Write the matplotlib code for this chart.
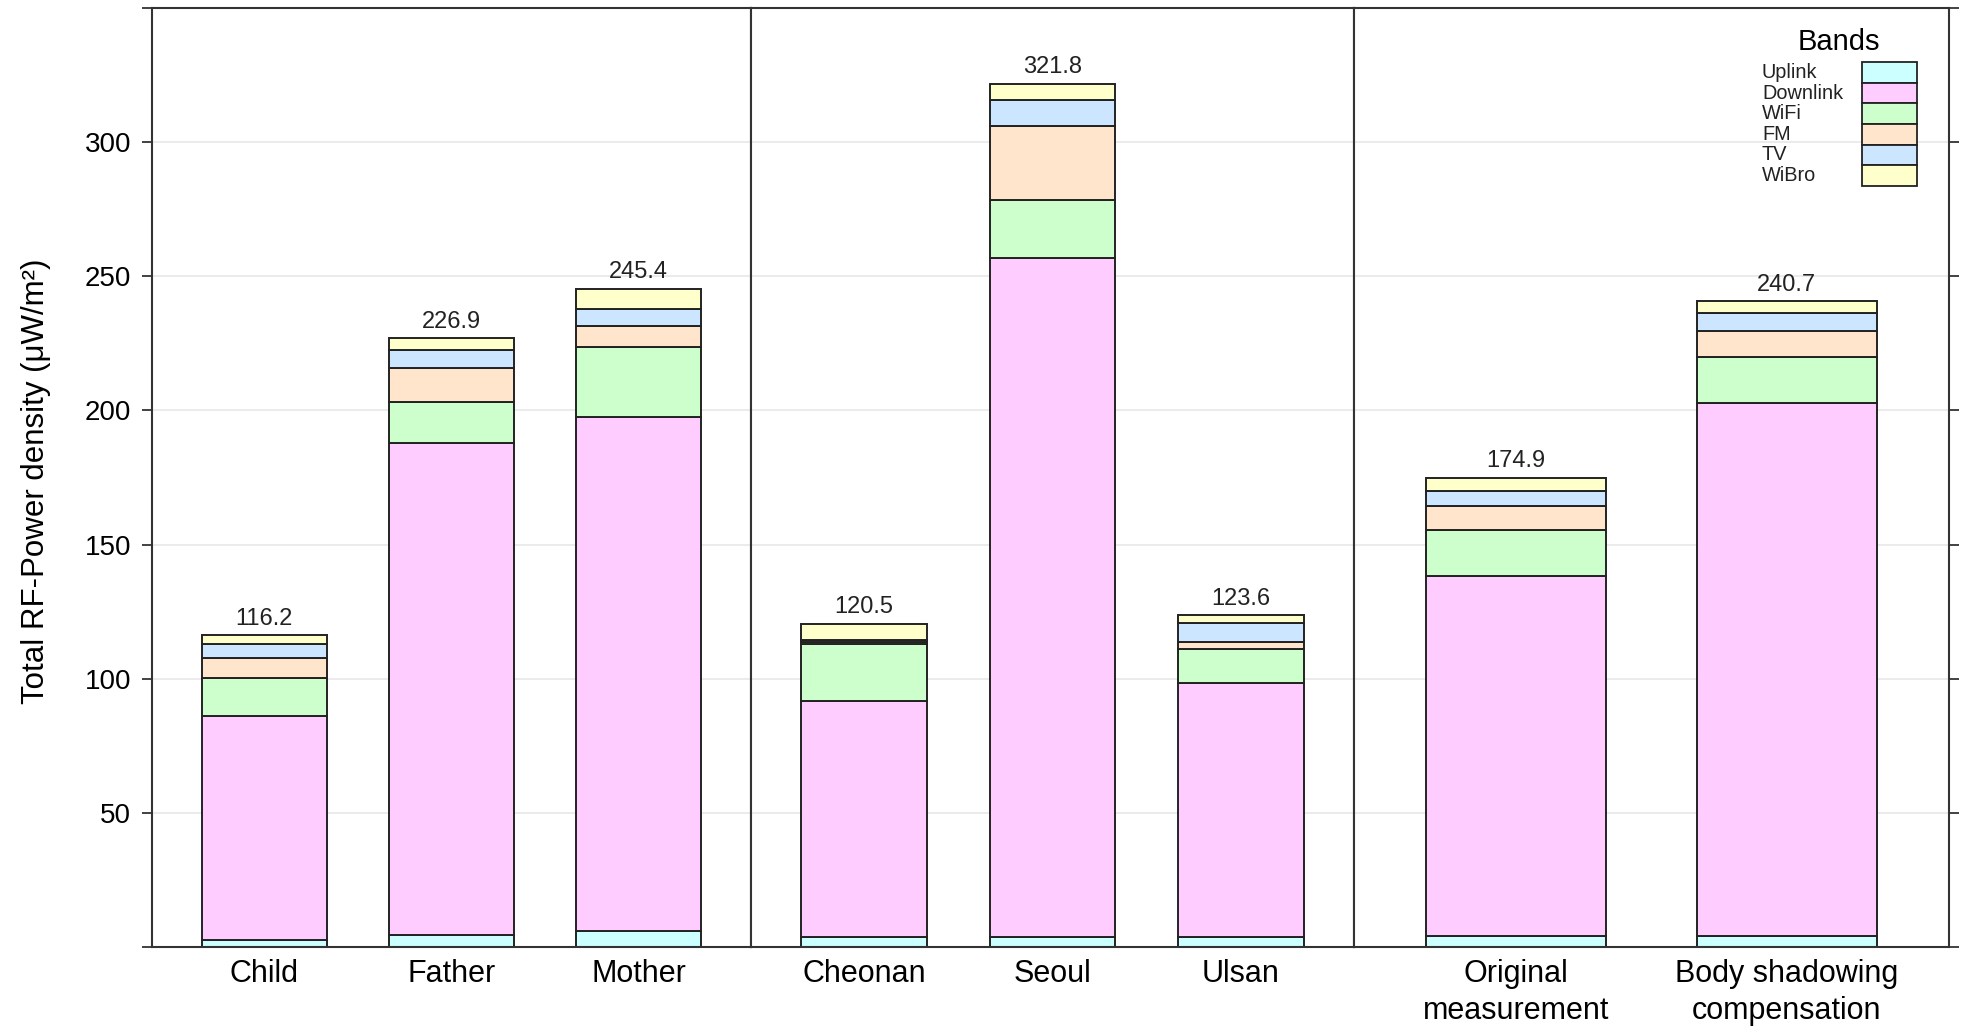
import matplotlib
matplotlib.use('Agg')
import matplotlib.pyplot as plt
from matplotlib.patches import Rectangle
import numpy as np

plt.rcParams['font.family'] = ['Liberation Sans', 'DejaVu Sans']

# band names and lattice default pastel colours
bands = ['Uplink', 'Downlink', 'WiFi', 'FM', 'TV', 'WiBro']
band_colors = ['#CCFFFF', '#FFCCFF', '#CCFFCC', '#FFE5CC', '#CCE6FF', '#FFFFCC']

# categories of the three panels
family = ['Child', 'Father', 'Mother']
cities = ['Cheonan', 'Seoul', 'Ulsan']
methods = ['Original\nmeasurement', 'Body shadowing\ncompensation']

# values (uW/m2) per band, in the order family + cities + methods
uplink = [2.6, 4.5, 6.1, 3.8, 3.6, 3.8, 4.1, 4.1]
downlink = [83.6, 183.2, 191.4, 88.0, 253.2, 94.7, 134.1, 198.8]
wifi = [14.0, 15.6, 26.3, 21.1, 21.5, 12.5, 17.2, 17.2]
fm = [7.5, 12.4, 7.7, 0.9, 27.9, 2.8, 9.1, 9.4]
tv = [5.3, 6.9, 6.3, 0.7, 9.6, 6.9, 5.6, 6.8]
wibro = [3.2, 4.3, 7.6, 6.0, 6.0, 2.9, 4.8, 4.4]

values = np.array([uplink, downlink, wifi, fm, tv, wibro])
panels = [family, cities, methods]

fig = plt.figure(figsize=(19.68, 10.30), dpi=100)

# panel edges in figure fractions (left, divider, divider, right)
edges = [152 / 1968, 751 / 1968, 1354 / 1968, 1949 / 1968]
bottom, top = 0.0806, 0.9922
frame_col = '#333333'

start = 0
axes = []
for p, cats in enumerate(panels):
    ax = fig.add_axes([edges[p], bottom, edges[p + 1] - edges[p], top - bottom])
    axes.append(ax)
    n = len(cats)
    x = np.arange(1, n + 1)
    vals = values[:, start:start + n]
    start += n

    for y in range(50, 301, 50):
        ax.axhline(y, color='#e8e8e8', lw=1.2, zorder=0)

    base = np.zeros(n)
    for i, band in enumerate(bands):
        ax.bar(x, vals[i], width=2 / 3, bottom=base, color=band_colors[i],
               edgecolor='#222222', linewidth=1.4, zorder=2)
        base += vals[i]

    for xi, tot in zip(x, base):
        ax.annotate(f'{tot:.1f}', (xi, tot), xytext=(0, 4), textcoords='offset points',
                    ha='center', va='bottom', fontsize=17, color='#222222')

    ax.set_xlim(0.4, n + 0.6)
    ax.set_ylim(0, 350)
    ax.set_xticks(x)
    ax.set_xticklabels(cats, fontsize=22, linespacing=1.3)
    ax.tick_params(axis='x', length=0, pad=9)

    for s in ax.spines.values():
        s.set_color(frame_col)
        s.set_linewidth(1.5)

    ax.set_yticks(range(0, 351, 50))
    if p == 0:
        ax.set_yticklabels([''] + [str(v) for v in range(50, 301, 50)] + [''], fontsize=20)
        ax.tick_params(axis='y', direction='out', length=7, width=1.3, color=frame_col, pad=8)
    elif p == 2:
        ax.yaxis.tick_right()
        ax.set_yticklabels([])
        ax.tick_params(axis='y', direction='out', length=7, width=1.3, color=frame_col)
    else:
        ax.tick_params(axis='y', length=0, labelleft=False)

fig.text(0.0185, 0.533, 'Total RF-Power density (μW/m²)', rotation=90,
         ha='center', va='center', fontsize=22.5)

# lattice-style key in the right panel
ax = axes[2]
row_h = 0.0220
sw_top = 0.9425
ax.text(0.8151, 0.964, 'Bands', transform=ax.transAxes, ha='center', va='center',
        fontsize=21)
for i, band in enumerate(bands):
    y0 = sw_top - (i + 1) * row_h
    ax.add_patch(Rectangle((0.8538, y0), 0.0924, row_h, transform=ax.transAxes,
                           facecolor=band_colors[i], edgecolor='#222222', lw=1.3,
                           zorder=3))
    ax.text(0.6857, y0 + row_h / 2, band, transform=ax.transAxes, ha='left',
            va='center', fontsize=14.3, color='#222222')

fig.savefig('out.png', dpi=100)
